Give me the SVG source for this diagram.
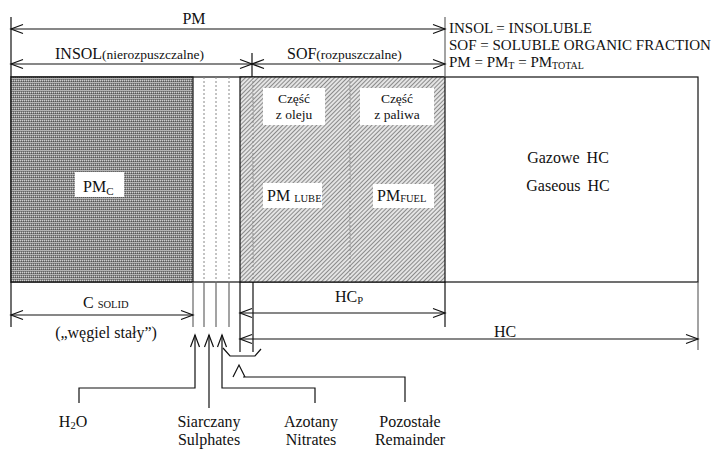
<svg xmlns="http://www.w3.org/2000/svg" width="715" height="450" viewBox="0 0 715 450" font-family="'Liberation Serif', 'Times New Roman', serif">
<style>
text{font-family:"Liberation Serif","Times New Roman",serif;fill:#111}
.l{stroke:#111;stroke-width:1.2;fill:none}
.g{stroke:#666;stroke-width:1.2;fill:none}
.d{stroke:#888;stroke-width:1;stroke-dasharray:2,2;fill:none}
.arr{stroke:#111;stroke-width:1.2;fill:none;marker-start:url(#ah);marker-end:url(#ah)}
.up{stroke:#111;stroke-width:1.2;fill:none;marker-end:url(#ah)}
.t16{font-size:16px;font-family:"Liberation Serif","Times New Roman",serif}
.t15{font-size:15px;font-family:"Liberation Serif","Times New Roman",serif}
.t13{font-size:13.5px;font-family:"Liberation Serif","Times New Roman",serif}
.wb{fill:#fff;stroke:none}
</style>
<defs>
<marker id="ah" markerUnits="userSpaceOnUse" markerWidth="16" markerHeight="12" viewBox="-14 -6 16 12" refX="0" refY="0" orient="auto-start-reverse">
<path d="M-12,-4.5 L0,0 L-12,4.5" fill="none" stroke="#111" stroke-width="1.2"/>
</marker>
<pattern id="chk" width="4" height="4" patternUnits="userSpaceOnUse">
<rect width="4" height="4" fill="#8a8a8a"/>
<rect x="0" y="0" width="1" height="1" fill="#d0d0d0"/>
<rect x="2" y="0" width="1" height="1" fill="#d0d0d0"/>
<rect x="1" y="1" width="1" height="1" fill="#555"/>
<rect x="3" y="1" width="1" height="1" fill="#555"/>
<rect x="0" y="2" width="4" height="1" fill="#b5b5b5"/>
<rect x="1" y="3" width="1" height="1" fill="#666"/>
<rect x="3" y="3" width="1" height="1" fill="#666"/>
</pattern>
<pattern id="hatch" width="3" height="3" patternUnits="userSpaceOnUse" patternTransform="rotate(-45)">
<rect width="3" height="3" fill="#e4e4e4"/>
<rect width="3" height="1" fill="#8a8a8a"/>
</pattern>
</defs>

<g id="main-rect">
<rect x="11" y="77" width="687" height="205" fill="#fff" stroke="#111" stroke-width="1.2"/>
</g>

<g id="pmc">
<rect x="11" y="77" width="182" height="205" fill="url(#chk)" stroke="#111" stroke-width="1.2"/>
<rect class="wb" x="75" y="172" width="49" height="25"/>
<text class="t16" x="83" y="192">PM<tspan font-size="11" dy="3">C</tspan></text>
</g>

<g id="stripes">
<line class="d" x1="204" y1="77" x2="204" y2="282"/>
<line class="d" x1="216" y1="77" x2="216" y2="282"/>
<line class="d" x1="229" y1="77" x2="229" y2="282"/>
</g>

<g id="sof">
<rect x="240" y="77" width="205" height="205" fill="url(#hatch)" stroke="#111" stroke-width="1.2"/>
<line class="d" x1="253" y1="77" x2="253" y2="282"/>
<line class="d" x1="350" y1="77" x2="350" y2="282"/>
</g>

<g id="lube">
<rect class="wb" x="263" y="88" width="62" height="37"/>
<text class="t13" x="294" y="103" text-anchor="middle">Część</text>
<text class="t13" x="294" y="119" text-anchor="middle">z oleju</text>
<rect class="wb" x="263" y="183" width="59" height="25"/>
<text class="t16" x="267" y="201">PM <tspan font-size="10.5" dy="1">LUBE</tspan></text>
</g>

<g id="fuel">
<rect class="wb" x="360" y="88" width="74" height="37"/>
<text class="t13" x="397" y="103" text-anchor="middle">Część</text>
<text class="t13" x="397" y="119" text-anchor="middle">z paliwa</text>
<rect class="wb" x="373" y="184" width="61" height="24"/>
<text class="t16" x="377" y="201">PM<tspan font-size="10.5" dy="1">FUEL</tspan></text>
</g>

<g id="gaseous">
<text class="t16" x="568" y="163" text-anchor="middle" word-spacing="3">Gazowe HC</text>
<text class="t16" x="568" y="191" text-anchor="middle" word-spacing="3">Gaseous HC</text>
</g>

<g id="legend">
<text class="t15" x="449" y="33">INSOL = INSOLUBLE</text>
<text class="t15" x="449" y="50">SOF = SOLUBLE ORGANIC FRACTION</text>
<text class="t15" x="449" y="67">PM = PM<tspan font-size="10" dy="2">T</tspan><tspan dy="-2"> = PM</tspan><tspan font-size="10" dy="2">TOTAL</tspan></text>
</g>

<g id="top-labels">
<text class="t16" x="194" y="24" text-anchor="middle">PM</text>
<text class="t16" x="55" y="59">INSOL<tspan font-size="13.5">(nierozpuszczalne)</tspan></text>
<text class="t16" x="287" y="59">SOF<tspan font-size="13.5">(rozpuszczalne)</tspan></text>
</g>

<g id="bottom-labels">
<text class="t16" x="83" y="308">C <tspan font-size="10.5">SOLID</tspan></text>
<text class="t16" x="106" y="338" text-anchor="middle">(„węgiel stały”)</text>
<text class="t16" x="335" y="302">HC<tspan font-size="10.5" dy="2">P</tspan></text>
<text class="t16" x="505" y="337" text-anchor="middle">HC</text>
<text class="t16" x="73" y="427" text-anchor="middle">H<tspan font-size="10.5" dy="2">2</tspan><tspan dy="-2">O</tspan></text>
<text class="t16" x="209" y="427" text-anchor="middle">Siarczany</text>
<text class="t16" x="209" y="445" text-anchor="middle">Sulphates</text>
<text class="t16" x="311" y="427" text-anchor="middle">Azotany</text>
<text class="t16" x="311" y="445" text-anchor="middle">Nitrates</text>
<text class="t16" x="410" y="427" text-anchor="middle">Pozostałe</text>
<text class="t16" x="410" y="445" text-anchor="middle">Remainder</text>
</g>

<g id="connectors">
<line class="l" x1="11" y1="17" x2="11" y2="77"/>
<line class="g" x1="445" y1="17" x2="445" y2="77"/>
<line class="l" x1="252" y1="53" x2="252" y2="77"/>
<line class="l" x1="11" y1="282" x2="11" y2="327"/>
<line class="g" x1="193" y1="282" x2="193" y2="327"/>
<line class="g" x1="204" y1="282" x2="204" y2="327"/>
<line class="g" x1="216" y1="282" x2="216" y2="327"/>
<line class="g" x1="229" y1="282" x2="229" y2="327"/>
<line class="l" x1="240" y1="282" x2="240" y2="352"/>
<line class="l" x1="253" y1="282" x2="253" y2="352"/>
<line class="l" x1="445" y1="282" x2="445" y2="327"/>
<line class="g" x1="698" y1="282" x2="698" y2="350"/>
<line class="arr" x1="11" y1="29" x2="445" y2="29"/>
<line class="arr" x1="11" y1="64" x2="252" y2="64"/>
<line class="arr" x1="252" y1="64" x2="445" y2="64"/>
<line class="arr" x1="11" y1="315" x2="193" y2="315"/>
<line class="arr" x1="240" y1="313" x2="445" y2="313"/>
<line class="arr" x1="240" y1="339" x2="698" y2="339"/>
<polyline class="l" points="223,348 230,356 255,356 261,349"/>
<polyline class="up" points="79,403 79,388 195,388 195,335"/>
<polyline class="up" points="209,408 209,335"/>
<polyline class="up" points="315,403 315,388 222,388 222,335"/>
<polyline class="l" points="405,402 405,377 243,377"/>
<polyline class="l" points="233,377 239,365 245,377"/>
</g>
</svg>
